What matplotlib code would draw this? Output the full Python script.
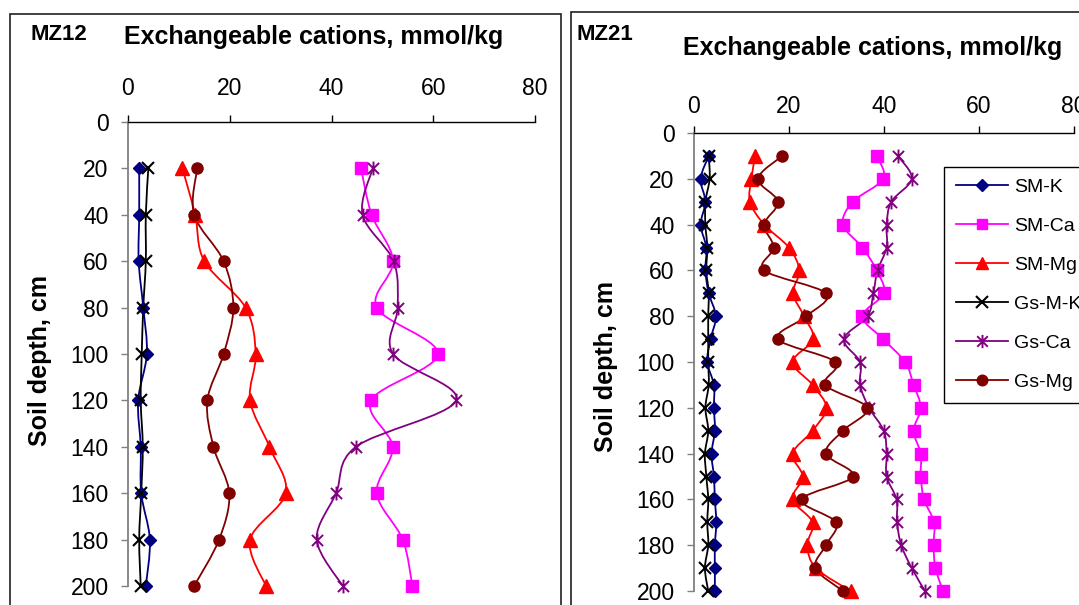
import numpy as np
import matplotlib
matplotlib.use('Agg')
import matplotlib.pyplot as plt
from matplotlib.path import Path
from matplotlib.patches import PathPatch, Rectangle
from matplotlib.lines import Line2D

plt.rcParams['font.family'] = ['Liberation Sans', 'DejaVu Sans']

# MZ12 profile, every 20 cm
depth_mz12 = [20, 40, 60, 80, 100, 120, 140, 160, 180, 200]
mz12_sm_k = [2.2, 2.2, 2.1, 3.0, 3.7, 2.0, 2.5, 2.6, 4.3, 3.5]
mz12_sm_ca = [45.8, 47.9, 52.1, 48.9, 60.9, 47.8, 52.0, 48.9, 54.0, 55.9]
mz12_sm_mg = [10.7, 13.2, 15.0, 23.1, 25.1, 24.0, 27.8, 31.0, 24.0, 27.1]
mz12_gs_k = [4.0, 3.5, 3.5, 3.0, 2.7, 2.5, 2.9, 2.6, 2.2, 2.5]
mz12_gs_ca = [48.1, 46.1, 52.2, 53.0, 52.1, 64.5, 44.8, 40.9, 37.1, 42.2]
mz12_gs_mg = [13.6, 13.0, 18.8, 20.7, 18.8, 15.6, 16.8, 19.9, 17.9, 13.0]

# MZ21 profile, every 10 cm
depth_mz21 = [10, 20, 30, 40, 50, 60, 70, 80, 90, 100,
              110, 120, 130, 140, 150, 160, 170, 180, 190, 200]
mz21_sm_k = [3.1, 1.4, 2.4, 1.4, 2.6, 2.4, 3.1, 4.6, 3.5, 2.8,
             4.2, 4.2, 4.4, 3.7, 4.2, 4.4, 4.7, 4.4, 4.4, 4.4]
mz21_sm_ca = [38.5, 39.9, 33.5, 31.4, 35.5, 38.5, 40.0, 35.5, 39.9, 44.5,
              46.3, 47.8, 46.3, 47.8, 47.8, 48.5, 50.6, 50.5, 50.9, 52.5]
mz21_sm_mg = [12.9, 12.1, 11.8, 14.8, 20.0, 22.2, 20.9, 23.2, 25.1, 20.8,
              25.0, 27.9, 25.0, 20.8, 22.9, 20.8, 25.0, 23.9, 25.7, 33.0]
mz21_gs_k = [3.1, 3.3, 2.4, 2.4, 2.8, 2.6, 3.1, 3.0, 3.0, 3.0,
             3.1, 2.4, 3.0, 2.3, 2.6, 3.0, 2.8, 3.0, 2.3, 3.0]
mz21_gs_ca = [43.0, 45.9, 41.6, 40.6, 40.6, 38.7, 37.8, 36.6, 31.6, 35.0,
              35.0, 36.9, 40.0, 40.6, 40.6, 42.7, 42.8, 43.7, 45.9, 48.7]
mz21_gs_mg = [18.6, 13.5, 17.7, 14.8, 16.8, 14.8, 27.8, 23.7, 17.7, 29.8,
              27.7, 36.5, 31.4, 27.8, 33.5, 22.7, 29.9, 27.8, 25.6, 31.4]

labels = ['SM-K', 'SM-Ca', 'SM-Mg', 'Gs-M-K', 'Gs-Ca', 'Gs-Mg']
x_ticks = [0, 20, 40, 60, 80]
y_ticks = [0, 20, 40, 60, 80, 100, 120, 140, 160, 180, 200]

# Excel-like star marker: an x with a vertical bar
star = Path([(-1, -1), (1, 1), (-1, 1), (1, -1), (0, -1.25), (0, 1.25)],
            [Path.MOVETO, Path.LINETO, Path.MOVETO, Path.LINETO, Path.MOVETO, Path.LINETO])

styles = [
    dict(color='#000080', marker='D', ms=6.2, mew=1),
    dict(color='#FF00FF', marker='s', ms=8, mew=1),
    dict(color='#FF0000', marker='^', ms=9.5, mew=1),
    dict(color='black', marker='x', ms=8.5, mew=1.5),
    dict(color='#800080', marker=star, ms=10, mew=1.4),
    dict(color='#800000', marker='o', ms=8, mew=1),
]


def smooth_path(x, y):
    # bezier segments like Excel's smoothed line
    pts = np.column_stack([x, y]).astype(float)
    n = len(pts)
    verts = [pts[0]]
    codes = [Path.MOVETO]
    for i in range(n - 1):
        p0 = pts[i - 1] if i > 0 else pts[i]
        p1 = pts[i]
        p2 = pts[i + 1]
        p3 = pts[i + 2] if i + 2 < n else pts[i + 1]
        verts += [p1 + (p2 - p0) / 6, p2 - (p3 - p1) / 6, p2]
        codes += [Path.CURVE4] * 3
    return Path(verts, codes)


def draw_panel(ax, depth, series, xpad):
    for vals, st in zip(series, styles):
        ax.add_patch(PathPatch(smooth_path(vals, depth), fill=False,
                               edgecolor=st['color'], lw=1.3, zorder=2))
        ax.plot(vals, depth, linestyle='none', marker=st['marker'], ms=st['ms'],
                mew=st['mew'], color=st['color'], mec=st['color'], zorder=3,
                clip_on=False)
    ax.set_xlim(0, 80)
    ax.set_ylim(200, 0)
    ax.set_xticks(x_ticks)
    ax.set_yticks(y_ticks)
    ax.xaxis.tick_top()
    ax.spines['right'].set_visible(False)
    ax.spines['bottom'].set_visible(False)
    ax.spines['top'].set_color('black')
    ax.spines['top'].set_linewidth(1.0)
    ax.spines['left'].set_color('#808080')
    ax.spines['left'].set_linewidth(1.3)
    ax.tick_params(axis='x', direction='out', length=5, width=1, color='black',
                   labelsize=16.5, pad=xpad)
    ax.tick_params(axis='y', direction='out', length=5, width=1, color='#808080',
                   labelsize=16.5, pad=9, labelcolor='black')


W, H = 1079, 605
fig = plt.figure(figsize=(W / 100, H / 100), dpi=100)

# panel frames
fig.add_artist(Rectangle((10 / W, -0.05), 551 / W, 1.05 - 14 / H, transform=fig.transFigure,
                         fill=False, edgecolor='#202020', lw=1.2, clip_on=False))
fig.add_artist(Rectangle((571 / W, -0.05), 0.5, 1.05 - 12 / H, transform=fig.transFigure,
                         fill=False, edgecolor='#202020', lw=1.2, clip_on=False))

ax1 = fig.add_axes([128 / W, 1 - 586 / H, 407 / W, 464 / H])
ax1.patch.set_alpha(0)
draw_panel(ax1, depth_mz12, [mz12_sm_k, mz12_sm_ca, mz12_sm_mg,
                             mz12_gs_k, mz12_gs_ca, mz12_gs_mg], xpad=11)

ax2 = fig.add_axes([694 / W, 1 - 591 / H, 379.5 / W, 458 / H])
ax2.patch.set_alpha(0)
draw_panel(ax2, depth_mz21, [mz21_sm_k, mz21_sm_ca, mz21_sm_mg,
                             mz21_gs_k, mz21_gs_ca, mz21_gs_mg], xpad=6)

# titles and axis labels
fig.text(30 / W, 1 - 35 / H, 'MZ12', fontsize=16, fontweight='bold', va='center', ha='left')
fig.text(124 / W, 1 - 37 / H, 'Exchangeable cations, mmol/kg', fontsize=18,
         fontweight='bold', va='center', ha='left')
fig.text(576 / W, 1 - 34 / H, 'MZ21', fontsize=16, fontweight='bold', va='center', ha='left')
fig.text(683 / W, 1 - 48 / H, 'Exchangeable cations, mmol/kg', fontsize=18,
         fontweight='bold', va='center', ha='left')
fig.text(40 / W, 1 - 361 / H, 'Soil depth, cm', fontsize=18, fontweight='bold',
         rotation=90, va='center', ha='center')
fig.text(606 / W, 1 - 366 / H, 'Soil depth, cm', fontsize=18, fontweight='bold',
         rotation=90, va='center', ha='center')

handles = [Line2D([], [], color=st['color'], lw=1.3, marker=st['marker'],
                  ms=st['ms'] * 0.95, mew=st['mew'], mec=st['color'])
           for st in styles]
leg = ax2.legend(handles, labels, loc='upper left',
                 bbox_to_anchor=(944 / W, 1 - 167 / H), bbox_transform=fig.transFigure,
                 fontsize=14, frameon=True, fancybox=False, edgecolor='black',
                 framealpha=1, borderaxespad=0, borderpad=0.6, handlelength=2.7,
                 handletextpad=0.3, labelspacing=1.1)
leg.get_frame().set_linewidth(1.0)

fig.savefig('out.png', dpi=100)
